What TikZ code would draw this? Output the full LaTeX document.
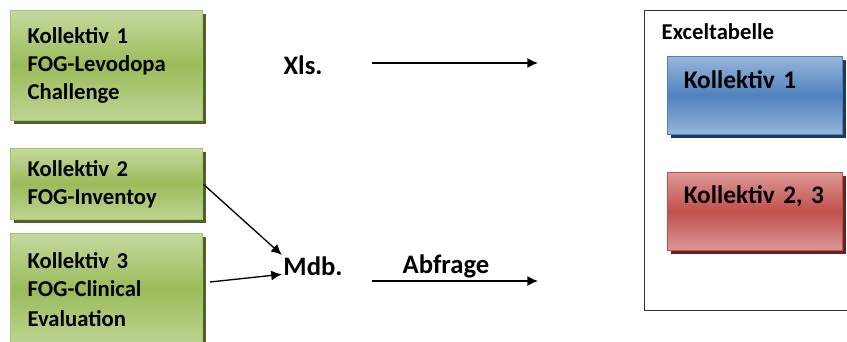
\documentclass[tikz,border=0pt]{standalone}
\usepackage{fontspec}
\setmainfont{Carlito}
\usetikzlibrary{positioning, arrows.meta, shadows}

\definecolor{gruenhell}{HTML}{C5D99F}
\definecolor{gruen}{HTML}{9BBB59}
\definecolor{gruenrand}{HTML}{A9C46E}
\definecolor{gruenschatten}{HTML}{4F6228}
\definecolor{blauhell}{HTML}{98B6DA}
\definecolor{blau}{HTML}{4F81BD}
\definecolor{blauschatten}{HTML}{1F3A5F}
\definecolor{rothell}{HTML}{DC9896}
\definecolor{rot}{HTML}{C0504D}
\definecolor{rotschatten}{HTML}{632523}

\begin{document}
\begin{tikzpicture}[x=0.75pt, y=-0.75pt,
    pfeil/.style = {line width=1pt, -{Latex[length=8pt, width=7.5pt]}},
    kollbox/.style = {rectangle, anchor=north west, line width=0.9pt, inner xsep=12.75pt,
        text width=118.5pt, minimum width=144pt, align=left,
        font=\bfseries\fontsize{17}{21}\selectfont, draw=gruenrand,
        top color=gruenhell, bottom color=gruenhell!85!gruen, middle color=gruen,
        drop shadow={shadow xshift=2.25pt, shadow yshift=-2.25pt, fill=gruenschatten, opacity=1}},
    tabbox/.style = {rectangle, anchor=north west, line width=0.9pt, inner xsep=12pt, inner ysep=0pt,
        text width=107pt, minimum width=131.25pt, align=left,
        font=\bfseries\fontsize{19}{23}\selectfont},
    marke/.style = {font=\bfseries\fontsize{20}{24}\selectfont}]

    \useasboundingbox (0,0) rectangle (847,342);

    % Kollektive links
    \node[kollbox, minimum height=82.5pt] (k1) at (10,10)
        {Kollektiv 1\\FOG-Levodopa\\Challenge};
    \node[kollbox, minimum height=53.25pt] (k2) at (10,148)
        {Kollektiv 2\\FOG-Inventoy};
    \node[kollbox, minimum height=84pt] (k3) at (10,233)
        {Kollektiv 3\\FOG-Clinical\\[2pt]Evaluation};

    % Formate
    \node[marke] (xls) at (303,65) {Xls.};
    \node[marke, inner sep=1pt] (mdb) at (313,266) {Mdb.};
    \node[marke] (abfrage) at (446,266) {Abfrage};

    % Excel-Tabelle rechts
    \node[draw=black!80, line width=0.7pt, anchor=north west, minimum width=156pt,
        minimum height=225pt] (excel) at (644,10) {};
    \node[anchor=west, font=\bfseries\fontsize{17}{20}\selectfont] (exceltitel) at (657,32) {Exceltabelle};
    \node[tabbox, text height=24pt, text depth=34.5pt, draw=blau, top color=blauhell,
        bottom color=blauhell, middle color=blau,
        drop shadow={shadow xshift=2.25pt, shadow yshift=-2.25pt, fill=blauschatten, opacity=1}]
        (t1) at (667,56) {Kollektiv 1};
    \node[tabbox, text height=23.25pt, text depth=35.25pt, draw=rot, top color=rothell,
        bottom color=rothell, middle color=rot,
        drop shadow={shadow xshift=2.25pt, shadow yshift=-2.25pt, fill=rotschatten, opacity=1}]
        (t2) at (667,172) {Kollektiv 2, 3};

    % Pfeile
    \coordinate (xlsA) at (372,63);
    \coordinate (xlsB) at (538,63);
    \coordinate (abfA) at (372,281);
    \coordinate (abfB) at (538,281);
    \coordinate (k3aus) at (210,282);

    \draw[pfeil] (k2.east) -- (mdb.north west);
    \draw[pfeil] (k3aus) -- (mdb.195);
    \draw[pfeil] (xlsA) -- (xlsB);
    \draw[pfeil] (abfA) -- (abfB);
\end{tikzpicture}
\end{document}
